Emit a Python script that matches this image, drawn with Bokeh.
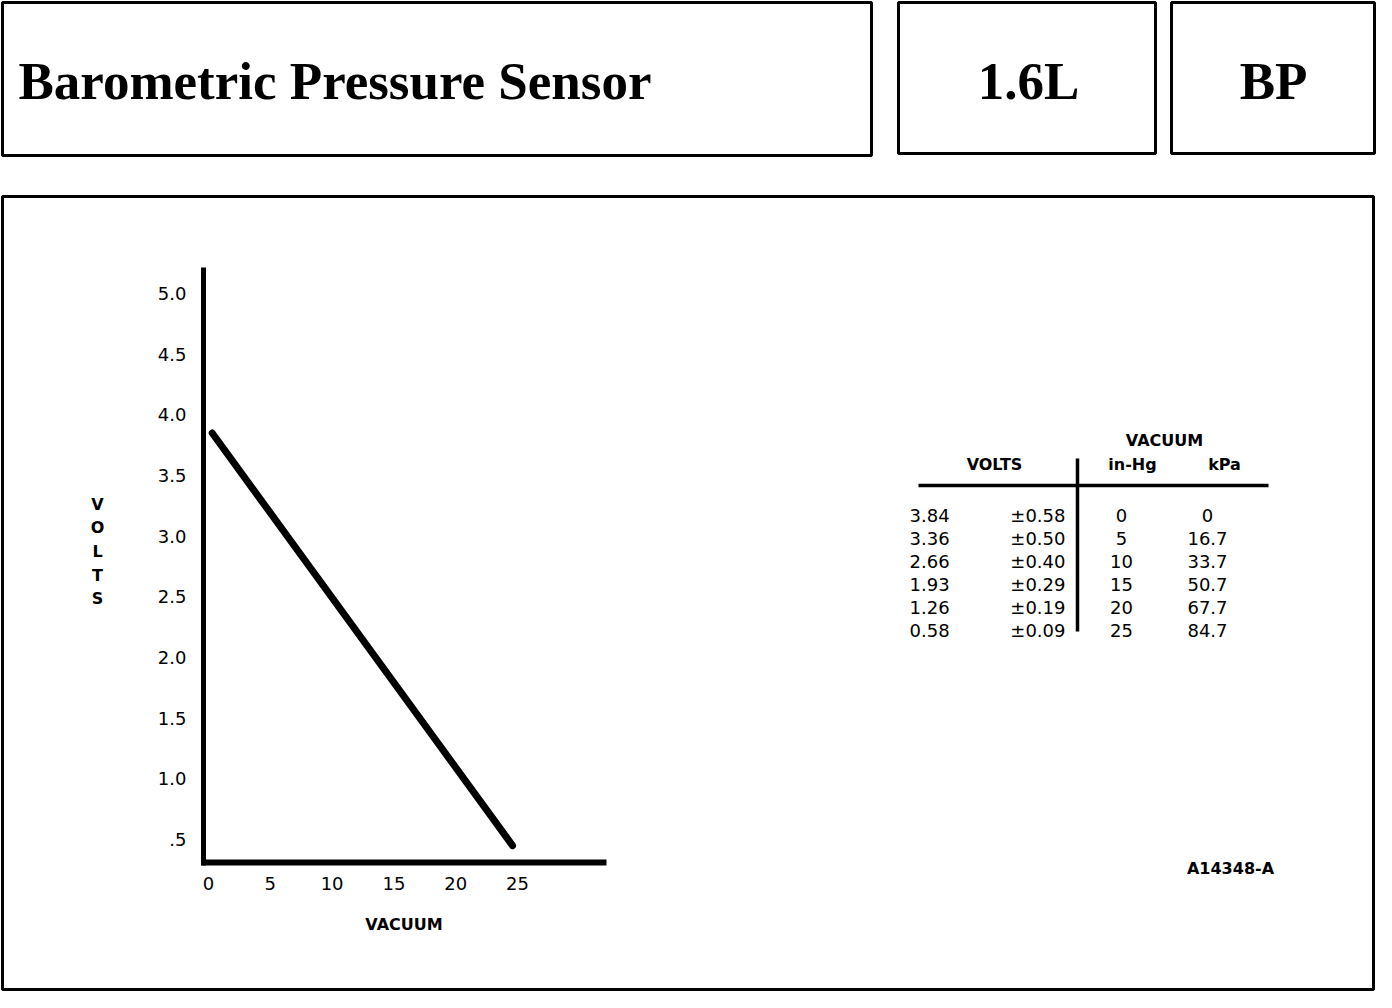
from bokeh.plotting import figure
from bokeh.models import Range1d, LinearAxis, FixedTicker, ColumnDataSource, PrintfTickFormatter
from bokeh.core.properties import value
from bokeh.embed import file_html
from bokeh.resources import INLINE

# ---------------- data ----------------
# table values
in_hg = [0, 5, 10, 15, 20, 25]
kpa = ["0", "16.7", "33.7", "50.7", "67.7", "84.7"]
volts = [3.84, 3.36, 2.66, 1.93, 1.26, 0.58]
tolerance = [0.58, 0.50, 0.40, 0.29, 0.19, 0.09]
# plotted curve (a straight line, endpoints)
curve_in_hg = [0.3, 24.6]
curve_volts = [3.85, 0.45]
volt_ticks = [0.5, 1.0, 1.5, 2.0, 2.5, 3.0, 3.5, 4.0, 4.5, 5.0]
vac_ticks = [0, 5, 10, 15, 20, 25]
title_text = "Barometric Pressure Sensor"
engine_text = "1.6L"
code_text = "BP"
figure_id = "A14348-A"

# ---------------- layout ----------------
W, H = 1376, 992

V_TOP_VAL, V_TOP_PX = 5.0, 293
V_BOT_VAL, V_BOT_PX = 0.5, 839
PPV = (V_BOT_PX - V_TOP_PX) / (V_TOP_VAL - V_BOT_VAL)
U0_PX, U25_PX = 208, 517
PPU = (U25_PX - U0_PX) / 25.0


def v_at(py):
    return V_TOP_VAL - (py - V_TOP_PX) / PPV


def u_at(px):
    return (px - U0_PX) / PPU


p = figure(width=W, height=H, x_range=Range1d(0, W), y_range=Range1d(H, 0),
           x_axis_type=None, y_axis_type=None, toolbar_location=None,
           output_backend="svg", min_border=0, outline_line_color=None,
           background_fill_color="white", border_fill_color="white")
p.extra_x_ranges = {"vac": Range1d(u_at(0), u_at(W))}
p.extra_y_ranges = {"volts": Range1d(v_at(H), v_at(0))}

# boxes
boxes = ColumnDataSource(dict(left=[2, 898, 1171, 2], right=[871, 1155, 1374, 1373],
                              top=[2, 2, 2, 196], bottom=[155, 153, 153, 989]))
p.quad(left="left", right="right", top="top", bottom="bottom", source=boxes,
       fill_color=None, line_color="black", line_width=3)

# header texts
serif = value("Liberation Serif")
p.text(x=[18], y=[80], text=[title_text], text_font=serif, text_font_style="bold",
       text_font_size="53px", text_align="left", text_baseline="middle", text_color="black")
p.text(x=[1028, 1273], y=[80, 80], text=[engine_text, code_text], text_font=serif,
       text_font_style="bold", text_font_size="53px", text_align="center",
       text_baseline="middle", text_color="black")

# axes
common = dict(major_tick_line_color=None, minor_tick_line_color=None,
              major_label_text_font="DejaVu Sans", major_label_text_font_size="18px",
              major_label_text_color="black", axis_line_color="black")
yax = LinearAxis(x_range_name="vac", y_range_name="volts", fixed_location=u_at(203),
                 bounds=(v_at(865), v_at(267)), ticker=FixedTicker(ticks=volt_ticks),
                 formatter=PrintfTickFormatter(format="%.1f"),
                 major_label_overrides={0.5: ".5"}, axis_line_width=5,
                 major_label_standoff=11, **common)
p.add_layout(yax, "left")
xax = LinearAxis(x_range_name="vac", y_range_name="volts", fixed_location=v_at(862),
                 bounds=(u_at(201), u_at(606)), ticker=FixedTicker(ticks=vac_ticks),
                 axis_line_width=6, major_label_standoff=8,
                 axis_label="VACUUM", axis_label_standoff=22,
                 axis_label_text_font="DejaVu Sans", axis_label_text_font_style="bold",
                 axis_label_text_font_size="16px", axis_label_text_color="black", **common)
p.add_layout(xax, "below")

# vertical stacked y label
p.text(x=[97], y=[551], text=["V\nO\nL\nT\nS"], text_align="center", text_baseline="middle",
       text_font=value("DejaVu Sans"), text_font_style="bold", text_font_size="16px",
       text_line_height=1.24, text_color="black")

# data line
p.line(x=curve_in_hg, y=curve_volts, x_range_name="vac", y_range_name="volts",
       line_width=7, line_color="black", line_cap="round", line_join="round")

# ---------------- table ----------------
ROW0, ROW_STEP = 515, 23
rows_y = [ROW0 + ROW_STEP * i for i in range(len(volts))]
tbl = ColumnDataSource(dict(
    y=rows_y,
    v=[f"{v:.2f}" for v in volts],
    t=[f"\u00b1{t:.2f}" for t in tolerance],
    h=[str(h) for h in in_hg],
    k=kpa,
))
sans = value("DejaVu Sans")
num_kw = dict(source=tbl, y="y", text_font=sans, text_font_size="18px",
              text_baseline="middle", text_color="black")
p.text(x=909, text="v", text_align="left", **num_kw)
p.text(x=1065, text="t", text_align="right", **num_kw)
p.text(x=1121, text="h", text_align="center", **num_kw)
p.text(x=1207, text="k", text_align="center", **num_kw)

hdr_kw = dict(text_font=sans, text_font_style="bold", text_font_size="16px",
              text_baseline="middle", text_align="center", text_color="black")
p.text(x=[1164], y=[440], text=["VACUUM"], **hdr_kw)
p.text(x=[994, 1132, 1224], y=[464, 464, 464], text=["VOLTS", "in-Hg", "kPa"], **hdr_kw)

# table rules
p.segment(x0=[918, 1077], y0=[485, 458], x1=[1268, 1077], y1=[485, 631],
          line_color="black", line_width=3.5)

# figure id
p.text(x=[1230], y=[868], text=[figure_id], text_font=sans, text_font_style="bold",
       text_font_size="16px", text_align="center", text_baseline="middle", text_color="black")

open("out.html", "w").write(file_html(p, INLINE))
